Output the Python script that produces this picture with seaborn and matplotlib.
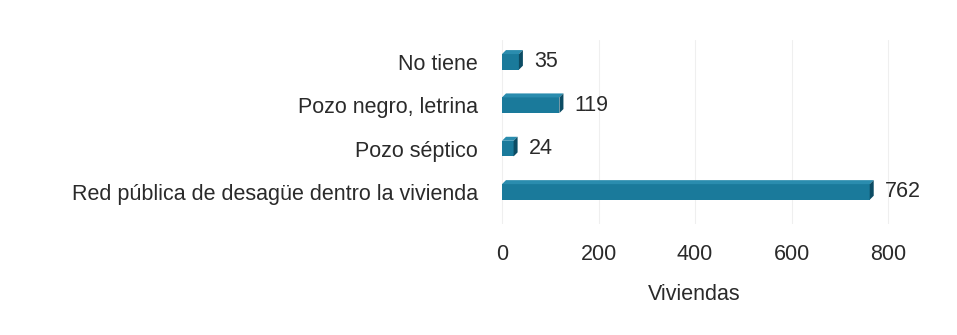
import matplotlib
matplotlib.use("Agg")
import matplotlib.pyplot as plt
from matplotlib.patches import Polygon
import seaborn as sns
import pandas as pd

categories = ["No tiene", "Pozo negro, letrina", "Pozo séptico",
              "Red pública de desagüe dentro la vivienda"]
values = [35, 119, 24, 762]
xticks = [0, 200, 400, 600, 800]
xlabel = "Viviendas"

df = pd.DataFrame({"cat": categories, "val": values})

sns.set_theme(style="white")
plt.rcParams['font.family'] = ['Liberation Sans', 'DejaVu Sans']
FS = 15.5
TXT = "#2a2a2a"

fig = plt.figure(figsize=(9.57, 3.35), dpi=100)
ax = fig.add_axes([0.517, 0.33, 0.416, 0.55])

sns.barplot(data=df, x="val", y="cat", orient="h", color="#1A7A9B",
            saturation=1, width=0.36, edgecolor="none", linewidth=0, ax=ax)

ax.set_xlim(-15, 810)
ax.set_ylim(3.75, -0.5)

# 3D-like bevel: top face and right side, derived from each bar patch
d = 4  # depth in pixels
for p in list(ax.patches):
    x0, y0 = p.get_xy()
    w, h = p.get_width(), p.get_height()
    bx0, by0 = ax.transData.transform((x0, y0 + h))  # bottom-left on screen
    bx1, by1 = ax.transData.transform((x0 + w, y0))  # top-right on screen
    top = Polygon([(bx0, by1), (bx1, by1), (bx1 + d, by1 + d), (bx0 + d, by1 + d)],
                  closed=True, transform=None, facecolor="#2A8CAE", edgecolor="none",
                  zorder=3)
    side = Polygon([(bx1, by0), (bx1, by1), (bx1 + d, by1 + d), (bx1 + d, by0 + d)],
                   closed=True, transform=None, facecolor="#0C4C64", edgecolor="none",
                   zorder=3)
    fig.add_artist(top)
    fig.add_artist(side)

for i, v in enumerate(values):
    ax.annotate(str(v), xy=(v, i), xytext=(11, 0), textcoords="offset points",
                va="center", ha="left", fontsize=FS, color=TXT)

ax.set_xticks(xticks)
ax.set_xticklabels([str(t) for t in xticks], fontsize=FS, color=TXT)
ax.tick_params(axis="x", pad=14, length=0)
ax.tick_params(axis="y", pad=12, length=0, labelsize=FS, labelcolor=TXT)
ax.set_ylabel("")
ax.set_xlabel(xlabel, fontsize=FS, color=TXT, labelpad=14)
ax.xaxis.grid(True, color="#efefef", linewidth=0.8)
ax.set_axisbelow(True)
for s in ax.spines.values():
    s.set_visible(False)

fig.savefig("out.png", dpi=100, facecolor="white")
